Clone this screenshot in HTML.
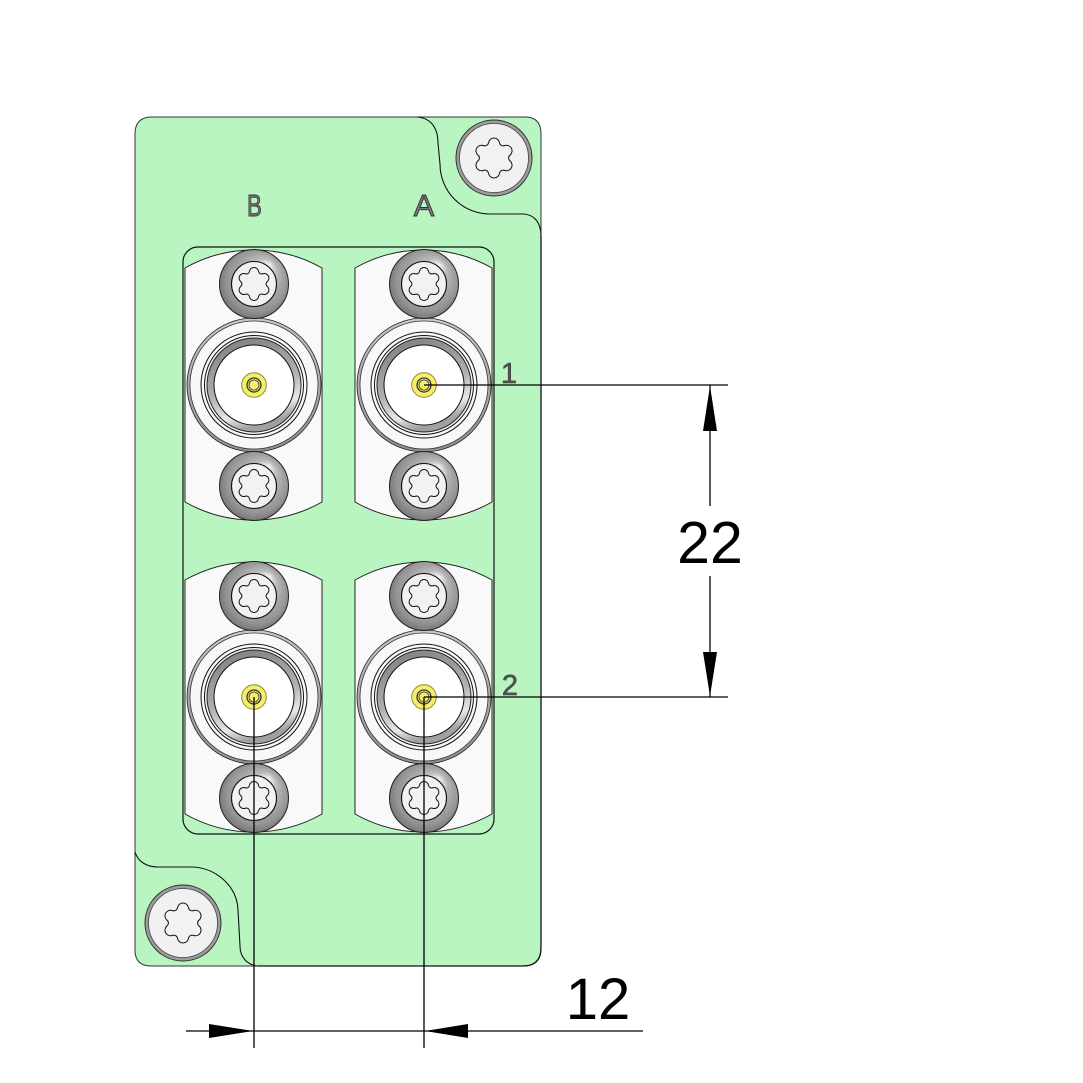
<!DOCTYPE html>
<html><head><meta charset="utf-8"><style>
html,body{margin:0;padding:0;background:#fff;}
svg{display:block;}
text{font-family:"Liberation Sans",sans-serif;}
</style></head><body>
<svg width="1083" height="1083" viewBox="0 0 1083 1083" xmlns="http://www.w3.org/2000/svg">
<defs>
  <path id="torx" d="M-0.277,-0.761 A0.28,0.28 0 0 1 0.277,-0.761 A0.18,0.18 0 0 0 0.521,-0.620 A0.28,0.28 0 0 1 0.798,-0.141 A0.18,0.18 0 0 0 0.798,0.141 A0.28,0.28 0 0 1 0.521,0.620 A0.18,0.18 0 0 0 0.277,0.761 A0.28,0.28 0 0 1 -0.277,0.761 A0.18,0.18 0 0 0 -0.521,0.620 A0.28,0.28 0 0 1 -0.798,0.141 A0.18,0.18 0 0 0 -0.798,-0.141 A0.28,0.28 0 0 1 -0.521,-0.620 A0.18,0.18 0 0 0 -0.277,-0.761 Z" fill="#f2f2f2" stroke="#111" stroke-width="1" vector-effect="non-scaling-stroke"/>
  <radialGradient id="screwG" cx="0.5" cy="0.5" r="0.55" fx="0.72" fy="0.22">
    <stop offset="0" stop-color="#f4f4f4"/>
    <stop offset="0.35" stop-color="#b8b8b8"/>
    <stop offset="0.8" stop-color="#959595"/>
    <stop offset="1" stop-color="#6e6e6e"/>
  </radialGradient>
  <linearGradient id="ringG" x1="0" y1="0" x2="0.3" y2="1">
    <stop offset="0" stop-color="#7a7a7a"/>
    <stop offset="0.6" stop-color="#b0b0b0"/>
    <stop offset="0.85" stop-color="#e8e8e8"/>
    <stop offset="1" stop-color="#a0a0a0"/>
  </linearGradient>
  <linearGradient id="outerG" x1="0" y1="0" x2="0" y2="1">
    <stop offset="0" stop-color="#c8c8c8"/>
    <stop offset="1" stop-color="#8e8e8e"/>
  </linearGradient>
  <g id="bnc">
    <circle r="67" fill="url(#outerG)" stroke="#222" stroke-width="0.8"/>
    <circle r="64" fill="#f8f8f8" stroke="#333" stroke-width="0.8"/>
    <circle r="53" fill="none" stroke="#111" stroke-width="1"/>
    <circle r="49.5" fill="none" stroke="#111" stroke-width="1"/>
    <circle r="47" fill="url(#ringG)" stroke="#222" stroke-width="1"/>
    <circle r="40" fill="#ffffff" stroke="#111" stroke-width="1"/>
    <circle r="12.3" fill="#f6ef6c" stroke="#8f8a30" stroke-width="1"/>
    <circle r="7" fill="none" stroke="#333" stroke-width="1.3"/>
    <circle r="5" fill="none" stroke="#333" stroke-width="0.8"/>
  </g>
  <g id="pscrew">
    <circle r="34.5" fill="url(#screwG)" stroke="#222" stroke-width="1"/>
    <circle r="22.5" fill="#f1f1f1" stroke="#111" stroke-width="1.1"/>
    <use href="#torx" transform="scale(16.5)"/>
  </g>
  <g id="bscrew">
    <circle r="38" fill="#9c9c9c" stroke="#333" stroke-width="1"/>
    <circle r="34.5" fill="#f1f1f1" stroke="#444" stroke-width="0.8"/>
    <use href="#torx" transform="scale(20)"/>
  </g>
  <g id="module">
    <path d="M0,0 A139,139 0 0 1 137,0 L137,234 A139,139 0 0 1 0,234 Z" fill="#f9f9f9" stroke="#222" stroke-width="1"/>
  </g>
</defs>

<!-- plate -->
<path d="M135,134 Q135,117 152,117 L525,117 Q541,117 541,134 L541,948 Q541,966 523,966 L151,966 Q135,966 135,950 Z" fill="#b9f5c1" stroke="#333" stroke-width="1"/>
<!-- top-right cutout -->
<path d="M417,117 C431,118 438,128 438,143 L440,164 A50,50 0 0 0 490,214 L524,214 C534,215 541,222 541,236" fill="none" stroke="#111" stroke-width="1.1"/>
<!-- bottom-left cutout -->
<path d="M135,852 C138,862 147,867 158,867 L193,867 C215,868 237,885 238,910 L240,946 C240,957 247,965 258,966" fill="none" stroke="#111" stroke-width="1.1"/>
<path d="M541,236 L541,948 Q541,966 523,966 L258,966" fill="none" stroke="#111" stroke-width="1.3"/>

<!-- plate screws -->
<use href="#bscrew" transform="translate(494,158)"/>
<use href="#bscrew" transform="translate(183,923)"/>

<!-- labels -->
<text x="254.5" y="216" font-size="31" text-anchor="middle" fill="#777" stroke="#333" stroke-width="0.9" transform="translate(254.5,0) scale(0.72,1) translate(-254.5,0)">B</text>
<text x="424" y="216" font-size="31" text-anchor="middle" fill="#777" stroke="#333" stroke-width="0.9">A</text>

<!-- window -->
<rect x="183" y="247" width="311" height="587" rx="15" ry="15" fill="none" stroke="#111" stroke-width="1.2"/>

<!-- modules -->
<use href="#module" transform="translate(185,268)"/>
<use href="#module" transform="translate(355,268)"/>
<use href="#module" transform="translate(185,580)"/>
<use href="#module" transform="translate(355,580)"/>

<use href="#bnc" transform="translate(254,385)"/>
<use href="#bnc" transform="translate(424,385)"/>
<use href="#bnc" transform="translate(254,697)"/>
<use href="#bnc" transform="translate(424,697)"/>

<use href="#pscrew" transform="translate(254,284)"/>
<use href="#pscrew" transform="translate(424,284)"/>
<use href="#pscrew" transform="translate(254,486)"/>
<use href="#pscrew" transform="translate(424,486)"/>
<use href="#pscrew" transform="translate(254,596)"/>
<use href="#pscrew" transform="translate(424,596)"/>
<use href="#pscrew" transform="translate(254,798)"/>
<use href="#pscrew" transform="translate(424,798)"/>

<!-- pin labels -->
<text x="509" y="383" font-size="29" text-anchor="middle" fill="#555" stroke="#333" stroke-width="0.5">1</text>
<text x="510" y="695" font-size="29" text-anchor="middle" fill="#555" stroke="#333" stroke-width="0.5">2</text>

<!-- dimensions -->
<g stroke="#000" stroke-width="1.3" fill="none">
  <line x1="424" y1="385" x2="728" y2="385"/>
  <line x1="424" y1="697" x2="728" y2="697"/>
  <line x1="710" y1="385" x2="710" y2="506"/>
  <line x1="710" y1="576" x2="710" y2="697"/>
  <line x1="254" y1="697" x2="254" y2="1048"/>
  <line x1="424" y1="697" x2="424" y2="1048"/>
  <line x1="186" y1="1031" x2="643" y2="1031"/>
</g>
<g fill="#000">
  <polygon points="710,386 703,431 717,431"/>
  <polygon points="710,696 703,652 717,652"/>
  <polygon points="253,1031 209,1024 209,1038"/>
  <polygon points="425,1031 468,1024 468,1038"/>
</g>
<text x="710" y="563" font-size="59" text-anchor="middle" fill="#000">22</text>
<text x="598" y="1019" font-size="58" text-anchor="middle" fill="#000">12</text>
</svg>
</body></html>
